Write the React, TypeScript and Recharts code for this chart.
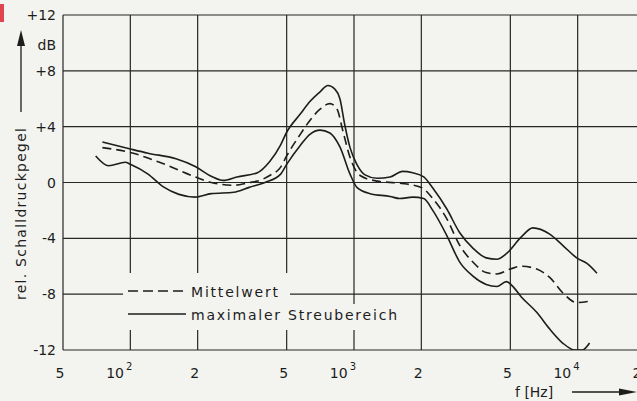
import React from 'react';
import { CartesianGrid, Line, LineChart, XAxis, YAxis } from 'recharts';

// Frequency response (Hz, dB).
const upperFreq = [75, 100, 120, 160, 195, 230, 260, 300, 370, 420, 470, 500, 575, 635, 705, 765, 820, 865, 910, 960, 1030, 1120, 1270, 1450, 1650, 1830, 2050, 2250, 2600, 2970, 3400, 3900, 4350, 4800, 5600, 6300, 7500, 8570, 9900, 11000, 12200];
const upperDb = [2.9, 2.4, 2.1, 1.7, 1.15, 0.45, 0.15, 0.4, 0.7, 1.5, 2.7, 3.6, 4.9, 5.8, 6.5, 6.95, 6.7, 6.0, 4.1, 2.5, 1.3, 0.55, 0.3, 0.4, 0.8, 0.7, 0.4, -0.4, -1.9, -3.6, -4.7, -5.4, -5.5, -5.1, -3.9, -3.25, -3.7, -4.5, -5.4, -5.8, -6.5];

const meanFreq = [75, 100, 135, 195, 230, 290, 340, 370, 420, 470, 500, 575, 635, 705, 780, 840, 890, 960, 1065, 1270, 1600, 2000, 2250, 2600, 2970, 3400, 3900, 4350, 5000, 5600, 6560, 7500, 8570, 9900, 11300];
const meanDb = [2.5, 2.15, 1.45, 0.4, 0.0, -0.2, 0.0, 0.1, 0.5, 1.1, 1.9, 3.45, 4.45, 5.25, 5.65, 5.25, 3.75, 1.8, 0.5, 0.1, -0.05, -0.35, -1.15, -2.6, -4.5, -5.7, -6.45, -6.55, -6.2, -6.0, -6.2, -6.8, -7.9, -8.6, -8.5];

const lowerFreq = [70, 80, 95, 100, 120, 140, 165, 195, 230, 290, 340, 400, 470, 500, 575, 635, 705, 780, 865, 960, 1030, 1180, 1450, 1600, 1830, 2050, 2250, 2600, 2970, 3400, 3900, 4350, 4800, 5100, 5600, 6560, 7500, 8570, 9700, 10500, 11300];
const lowerDb = [1.9, 1.2, 1.45, 1.3, 0.6, -0.3, -0.85, -1.05, -0.8, -0.7, -0.35, 0.0, 0.6, 1.3, 2.65, 3.45, 3.75, 3.55, 2.55, 0.6, -0.35, -0.8, -1.0, -1.15, -1.05, -1.15, -2.0, -3.8, -5.7, -6.7, -7.3, -7.45, -7.1, -7.4, -8.2, -9.3, -10.5, -11.5, -12.0, -12.0, -11.5];

const xTicks = [50, 100, 200, 500, 1000, 2000, 5000, 10000, 20000];
const xTickLabels = ['5', '10|2', '2', '5', '10|3', '2', '5', '10|4', '2'];
const yTicks = [-12, -8, -4, 0, 4, 8, 12];
const yTickLabels = ['-12', '-8', '-4', '0', '+4', '+8', '+12'];

const legendLabels = ['Mittelwert', 'maximaler Streubereich'];

const toPoints = (freq: number[], db: number[]) => freq.map((f, i) => ({ f, db: db[i] }));

const INK = '#1d1d1d';
const FONT = '"DejaVu Sans", sans-serif';

function XTick({ x, y, payload }: any) {
  const label = xTickLabels[xTicks.indexOf(payload.value)] ?? '';
  const [base, sup] = label.split('|');
  if (sup) {
    return (
      <text x={x + 2} y={y + 20} fontSize={14} fill={INK} fontFamily={FONT} textAnchor="end">
        {base}
        <tspan dx={2} dy={-8} fontSize={10}>{sup}</tspan>
      </text>
    );
  }
  return (
    <text x={x - 3} y={y + 20} fontSize={14} fill={INK} fontFamily={FONT} textAnchor="middle">
      {base}
    </text>
  );
}

function YTick({ y, payload }: any) {
  const label = yTickLabels[yTicks.indexOf(payload.value)] ?? '';
  return (
    <text x={56} y={y + 5} fontSize={14} fill={INK} fontFamily={FONT} textAnchor="end">
      {label}
    </text>
  );
}

function Overlay() {
  return (
    <svg
      width={637}
      height={401}
      style={{ position: 'absolute', left: 0, top: 0, pointerEvents: 'none' }}
    >
      {/* scan artefact */}
      <rect x={0} y={4} width={4} height={18} fill="#e0454f" />

      {/* legend knock-outs */}
      <rect x={123} y={273} width={167} height={31} fill="#f3f4ef" />
      <rect x={123} y={304} width={278} height={26} fill="#f3f4ef" />
      <line x1={128} y1={291} x2={186} y2={291} stroke={INK} strokeWidth={1.6} strokeDasharray="10 5" />
      <line x1={128} y1={314} x2={186} y2={314} stroke={INK} strokeWidth={1.6} />
      <text x={191} y={297} fontSize={14} fill={INK} fontFamily={FONT} textLength={87}>
        {legendLabels[0]}
      </text>
      <text x={191} y={320} fontSize={14} fill={INK} fontFamily={FONT} textLength={206}>
        {legendLabels[1]}
      </text>

      {/* y title */}
      <text
        x={0}
        y={0}
        transform="translate(26 300) rotate(-90)"
        fontSize={14}
        fill={INK}
        fontFamily={FONT}
        textLength={172}
      >
        rel. Schalldruckpegel
      </text>
      <line x1={21} y1={112} x2={21} y2={40} stroke={INK} strokeWidth={1.3} />
      <path d="M17 46 L21 30 L25 46 Z" fill={INK} />
      <text x={56} y={50} fontSize={14} fill={INK} fontFamily={FONT} textAnchor="end">
        dB
      </text>

      {/* x title */}
      <text x={515} y={397} fontSize={14} fill={INK} fontFamily={FONT}>
        f  [Hz]
      </text>
      <line x1={572} y1={392} x2={625} y2={392} stroke={INK} strokeWidth={1.3} />
      <path d="M619 388.5 L637 392 L619 395.5 Z" fill={INK} />
    </svg>
  );
}

export default function App() {
  return (
    <div
      style={{
        position: 'absolute',
        left: 0,
        top: 0,
        width: 637,
        height: 401,
        overflow: 'hidden',
        background: '#f3f4ef',
      }}
    >
      <LineChart width={660} height={401} margin={{ top: 15, right: 15, left: 0, bottom: 0 }}>
        <CartesianGrid stroke="#262626" strokeWidth={1.2} />
        <XAxis
          dataKey="f"
          type="number"
          scale="log"
          domain={[50, 20000]}
          ticks={xTicks}
          axisLine={false}
          tickLine={false}
          tick={<XTick />}
          height={51}
          allowDataOverflow
        />
        <YAxis
          type="number"
          domain={[-12, 12]}
          ticks={yTicks}
          axisLine={false}
          tickLine={false}
          tick={<YTick />}
          width={63}
          allowDataOverflow
        />
        <Line
          data={toPoints(upperFreq, upperDb)}
          dataKey="db"
          type="monotone"
          stroke={INK}
          strokeWidth={1.6}
          dot={false}
          isAnimationActive={false}
        />
        <Line
          data={toPoints(meanFreq, meanDb)}
          dataKey="db"
          type="monotone"
          stroke={INK}
          strokeWidth={1.6}
          strokeDasharray="9 5"
          dot={false}
          isAnimationActive={false}
        />
        <Line
          data={toPoints(lowerFreq, lowerDb)}
          dataKey="db"
          type="monotone"
          stroke={INK}
          strokeWidth={1.6}
          dot={false}
          isAnimationActive={false}
        />
      </LineChart>
      <Overlay />
    </div>
  );
}
